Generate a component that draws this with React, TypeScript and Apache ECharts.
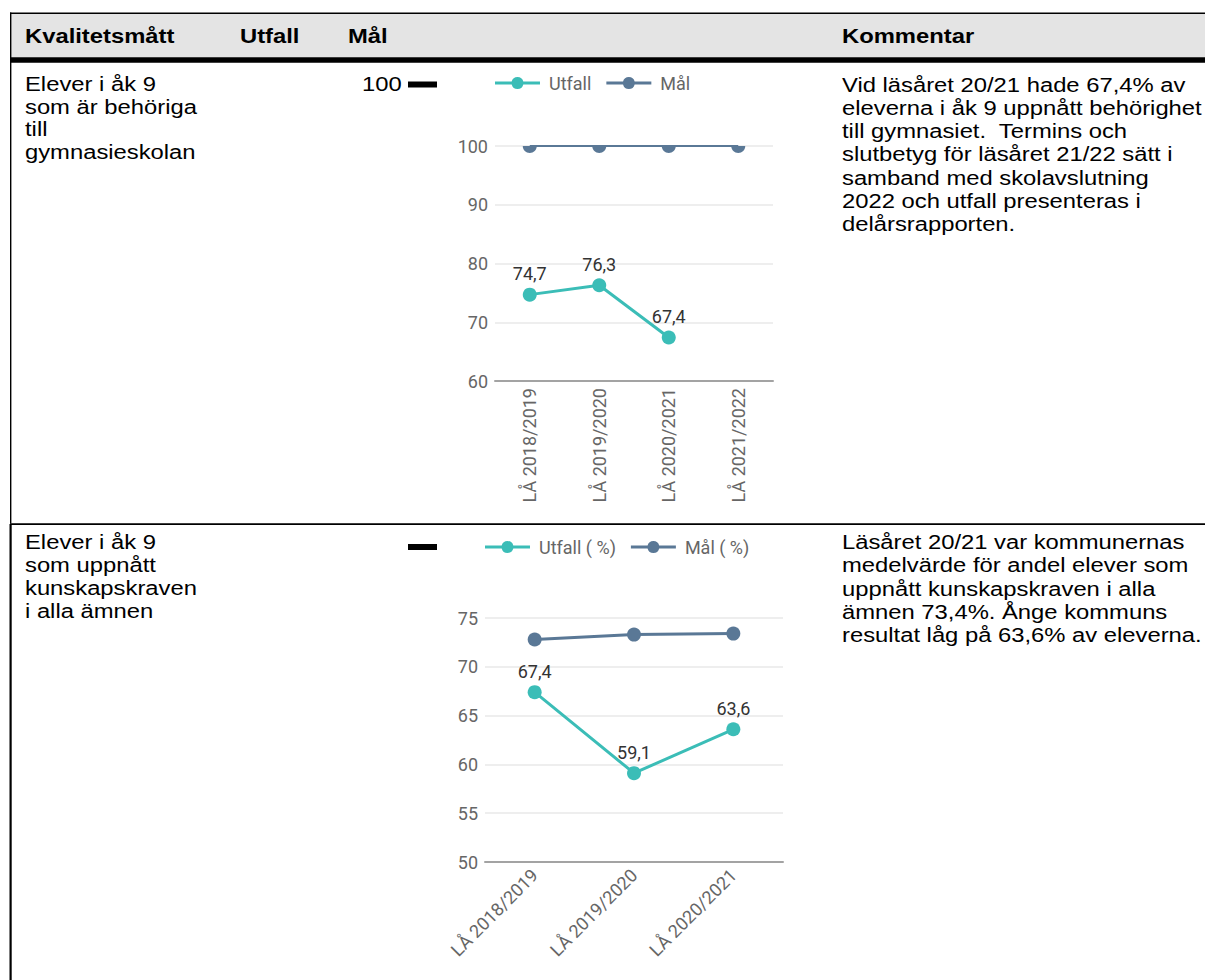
import React, { useEffect, useRef } from 'react';
import * as echarts from 'echarts';

// ---- data ----
const headers = ['Kvalitetsmått', 'Utfall', 'Mål', 'Kommentar'];
const row1Label = ['Elever i åk 9', 'som är behöriga', 'till', 'gymnasieskolan'];
const row1Target = '100';
const row1Comment = [
  'Vid läsåret 20/21 hade 67,4% av',
  'eleverna i åk 9 uppnått behörighet',
  'till gymnasiet.  Termins och',
  'slutbetyg för läsåret 21/22 sätt i',
  'samband med skolavslutning',
  '2022 och utfall presenteras i',
  'delårsrapporten.',
];
const row2Label = ['Elever i åk 9', 'som uppnått', 'kunskapskraven', 'i alla ämnen'];
const row2Comment = [
  'Läsåret 20/21 var kommunernas',
  'medelvärde för andel elever som',
  'uppnått kunskapskraven i alla',
  'ämnen 73,4%. Ånge kommuns',
  'resultat låg på 63,6% av eleverna.',
];

const categories1 = ['LÅ 2018/2019', 'LÅ 2019/2020', 'LÅ 2020/2021', 'LÅ 2021/2022'];
const seriesNames1 = ['Utfall', 'Mål'];
const utfall1 = [74.7, 76.3, 67.4, null];
const mal1 = [100, 100, 100, 100];
const yTicks1 = [60, 70, 80, 90, 100];

const categories2 = ['LÅ 2018/2019', 'LÅ 2019/2020', 'LÅ 2020/2021'];
const seriesNames2 = ['Utfall ( %)', 'Mål ( %)'];
const utfall2 = [67.4, 59.1, 63.6];
const mal2 = [72.8, 73.3, 73.4];
const yTicks2 = [50, 55, 60, 65, 70, 75];

// ---- styles ----
const TEAL = '#3bbdb7';
const SLATE = '#5a7896';
const TABLE_FONT = '"Liberation Sans", Arial, sans-serif';
const CHART_FONT = 'Roboto, sans-serif';
const CHART_FS = 18;
const SX = 1.19;
const LEG_ICON =
  'path://M0,4.5 H16.69 A6,6 0 0 1 28.31,4.5 H45 V7.5 H28.31 A6,6 0 0 1 16.69,7.5 H0 Z';
const HALF_CIRCLE = 'path://M0,0 C0,3.866 3.134,7 7,7 C10.866,7 14,3.866 14,0 Z';

function txt(x: number, top: number, lines: string[], bold: boolean, lh: number) {
  return {
    type: 'text',
    x,
    y: top,
    scaleX: SX,
    style: {
      text: lines.join('\n'),
      x: 0,
      y: 0,
      fill: '#000',
      fontSize: 20,
      fontFamily: TABLE_FONT,
      fontWeight: bold ? 'bold' : 'normal',
      lineHeight: lh,
      verticalAlign: 'top',
      textAlign: 'left',
    },
  };
}

function rect(x: number, y: number, w: number, h: number, fill: string) {
  return { type: 'rect', shape: { x, y, width: w, height: h }, style: { fill }, silent: true };
}

const fmt = (p: any) => String(p.value).replace('.', ',');

function axisY(ticks: number[], gridIndex: number) {
  return {
    type: 'value',
    gridIndex,
    min: ticks[0],
    max: ticks[ticks.length - 1],
    interval: ticks[1] - ticks[0],
    axisLine: { show: false },
    axisTick: { show: false },
    axisLabel: { color: '#666', fontSize: CHART_FS, fontFamily: CHART_FONT, margin: 7 },
    splitLine: { lineStyle: { color: '#e8e8e8', width: 1.5 } },
  };
}

function axisX(cats: string[], gridIndex: number, rotate: number, margin: number) {
  return {
    type: 'category',
    gridIndex,
    data: cats,
    boundaryGap: true,
    axisTick: { show: false },
    axisLine: { lineStyle: { color: '#a3a3a3', width: 2 } },
    axisLabel: {
      color: '#666',
      fontSize: CHART_FS,
      fontFamily: CHART_FONT,
      rotate,
      margin,
      interval: 0,
    },
  };
}

function legend(names: string[], left: number, top: number) {
  return {
    left,
    top,
    padding: 0,
    itemWidth: 45,
    itemHeight: 12,
    itemGap: 15,
    data: names.map((n) => ({ name: n, icon: LEG_ICON })),
    textStyle: { color: '#666', fontSize: CHART_FS, fontFamily: CHART_FONT, padding: [0, 0, 0, 4] },
  };
}

const labelTop = {
  show: true,
  position: 'top',
  distance: 5,
  formatter: fmt,
  fontSize: CHART_FS,
  fontFamily: CHART_FONT,
  color: '#333',
};

const option = {
  animation: false,
  backgroundColor: '#fff',
  grid: [
    { left: 495, top: 146, width: 278, height: 235, containLabel: false },
    { left: 485, top: 618, width: 298, height: 244, containLabel: false },
  ],
  legend: [legend(seriesNames1, 495, 74), legend(seriesNames2, 485, 538)],
  xAxis: [axisX(categories1, 0, 90, 7), axisX(categories2, 1, 45, 10)],
  yAxis: [axisY(yTicks1, 0), axisY(yTicks2, 1)],
  series: [
    {
      name: seriesNames1[0],
      type: 'line',
      xAxisIndex: 0,
      yAxisIndex: 0,
      data: utfall1,
      symbol: 'circle',
      symbolSize: 14,
      color: TEAL,
      lineStyle: { width: 3, color: TEAL },
      itemStyle: { color: TEAL },
      label: labelTop,
      z: 3,
    },
    {
      name: seriesNames1[1],
      type: 'line',
      xAxisIndex: 0,
      yAxisIndex: 0,
      data: mal1,
      symbol: HALF_CIRCLE,
      symbolSize: [14, 7],
      symbolOffset: [0, 3.5],
      color: SLATE,
      lineStyle: { width: 2, color: SLATE },
      itemStyle: { color: SLATE },
      label: { show: false },
    },
    {
      name: seriesNames2[0],
      type: 'line',
      xAxisIndex: 1,
      yAxisIndex: 1,
      data: utfall2,
      symbol: 'circle',
      symbolSize: 14,
      color: TEAL,
      lineStyle: { width: 3, color: TEAL },
      itemStyle: { color: TEAL },
      label: labelTop,
      z: 3,
    },
    {
      name: seriesNames2[1],
      type: 'line',
      xAxisIndex: 1,
      yAxisIndex: 1,
      data: mal2,
      symbol: 'circle',
      symbolSize: 14,
      color: SLATE,
      lineStyle: { width: 3, color: SLATE },
      itemStyle: { color: SLATE },
      label: { show: false },
    },
  ],
  graphic: [
    // table frame
    rect(10, 14, 1195, 43.5, '#e4e4e4'),
    rect(10, 12.5, 1195, 1.6, '#000'),
    rect(10, 57.2, 1195, 5.6, '#000'),
    rect(10, 523.3, 1195, 1.6, '#000'),
    rect(10, 12.5, 1.4, 511, '#000'),
    rect(9.5, 524, 2.2, 456, '#000'),
    // header
    txt(25, 25, [headers[0]], true, 23),
    txt(240, 25, [headers[1]], true, 23),
    txt(348, 25, [headers[2]], true, 23),
    txt(842, 25, [headers[3]], true, 23),
    // row 1
    txt(25, 72.6, row1Label, false, 22.8),
    txt(362, 72.6, [row1Target], false, 22.8),
    rect(408, 81.5, 29, 6, '#000'),
    txt(842, 73.1, row1Comment, false, 23.3),
    // row 2
    txt(25, 531, row2Label, false, 22.8),
    rect(408, 544, 29, 6, '#000'),
    txt(842, 530.7, row2Comment, false, 23.3),
  ],
};

export default function App() {
  const ref = useRef<HTMLDivElement>(null);
  useEffect(() => {
    if (!ref.current) return;
    const chart = echarts.init(ref.current, null, { renderer: 'svg' });
    chart.setOption(option as any);
    return () => chart.dispose();
  }, []);
  return (
    <div
      ref={ref}
      style={{ position: 'absolute', left: 0, top: 0, width: 1205, height: 980 }}
    />
  );
}
